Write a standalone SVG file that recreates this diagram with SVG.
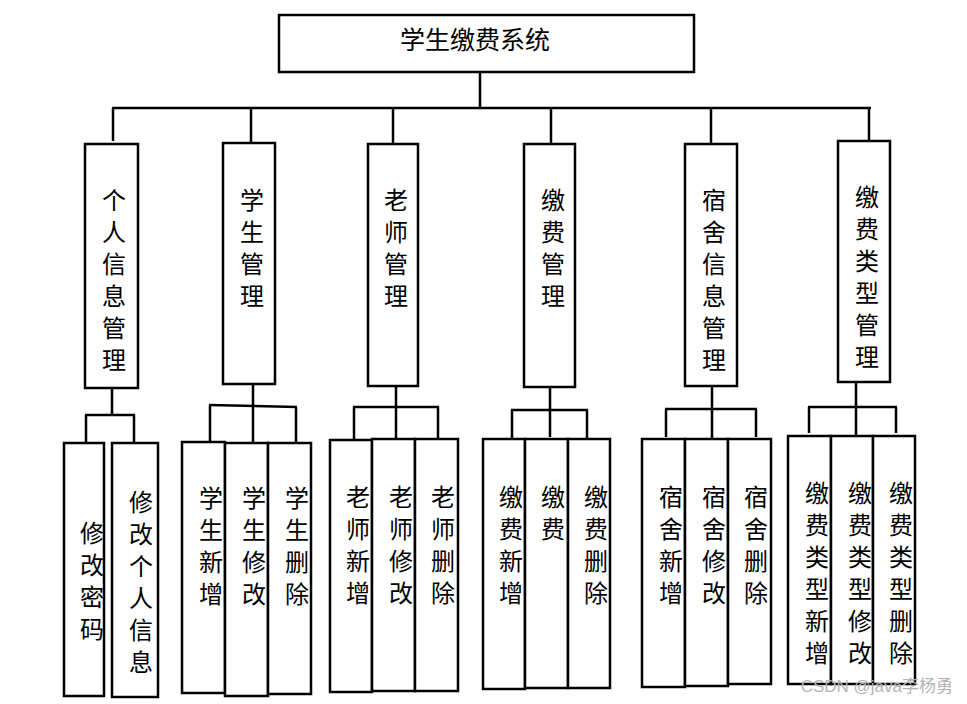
<svg xmlns="http://www.w3.org/2000/svg" width="967" height="704" viewBox="0 0 967 704">
<style>
.box{fill:#fff;stroke:#000;stroke-width:2.5}
.t{font-family:"Noto Sans CJK SC","Liberation Serif",serif;font-size:24px;fill:#000;text-anchor:middle}
.v{font-family:"Noto Sans CJK SC","Liberation Serif",serif;font-size:24px;fill:#000;writing-mode:vertical-rl;text-anchor:start;letter-spacing:8px}
.c line{stroke:#000;stroke-width:2.5}
.wm{font-family:"Liberation Sans","Noto Sans CJK SC",sans-serif;font-size:17px;fill:#b4b4b4;text-anchor:end}
</style>
<rect width="967" height="704" fill="#fff"/>
<g class="c" id="connectors">
<line x1="480" y1="72" x2="480" y2="108"/>
<line x1="112" y1="108" x2="871" y2="108"/>
<line x1="113" y1="108" x2="113" y2="141"/>
<line x1="251" y1="108" x2="251" y2="143"/>
<line x1="393" y1="108" x2="393" y2="143"/>
<line x1="551" y1="108" x2="551" y2="143"/>
<line x1="711" y1="108" x2="711" y2="143"/>
<line x1="869" y1="108" x2="869" y2="140"/>
<line x1="112" y1="388" x2="112" y2="415"/>
<line x1="85" y1="415" x2="135" y2="415"/>
<line x1="86" y1="415" x2="86" y2="442"/>
<line x1="134" y1="415" x2="134" y2="443"/>
<line x1="253" y1="384" x2="253" y2="442"/>
<line x1="209" y1="405" x2="297" y2="407"/>
<line x1="210" y1="405" x2="210" y2="442"/>
<line x1="296" y1="407" x2="296" y2="443"/>
<line x1="396" y1="386" x2="396" y2="439"/>
<line x1="353" y1="407" x2="439" y2="407"/>
<line x1="354" y1="407" x2="354" y2="439"/>
<line x1="438" y1="407" x2="438" y2="439"/>
<line x1="550" y1="387" x2="550" y2="437"/>
<line x1="511" y1="410" x2="588" y2="410"/>
<line x1="512" y1="410" x2="512" y2="438"/>
<line x1="587" y1="410" x2="587" y2="438"/>
<line x1="712" y1="386" x2="712" y2="438"/>
<line x1="665" y1="409" x2="757" y2="409"/>
<line x1="666" y1="409" x2="666" y2="437"/>
<line x1="756" y1="409" x2="756" y2="437"/>
<line x1="856" y1="381" x2="856" y2="435"/>
<line x1="808" y1="407" x2="897" y2="407"/>
<line x1="809" y1="407" x2="809" y2="433"/>
<line x1="896" y1="407" x2="896" y2="433"/>
</g>
<g id="root"><rect class="box" x="279" y="15" width="415" height="57"/><text class="t" x="475" y="49" style="font-size:25px">学生缴费系统</text></g>
<g id="n1"><rect class="box" x="85" y="144" width="53" height="244"/><text class="v" x="114" y="188">个人信息管理</text></g>
<g id="n2"><rect class="box" x="223" y="143" width="52" height="241"/><text class="v" x="252" y="188">学生管理</text></g>
<g id="n3"><rect class="box" x="368" y="144" width="50" height="242"/><text class="v" x="396" y="188">老师管理</text></g>
<g id="n4"><rect class="box" x="524" y="144" width="51" height="243"/><text class="v" x="553" y="188">缴费管理</text></g>
<g id="n5"><rect class="box" x="685" y="144" width="52" height="242"/><text class="v" x="714" y="188">宿舍信息管理</text></g>
<g id="n6"><rect class="box" x="838" y="141" width="52" height="241"/><text class="v" x="867" y="185">缴费类型管理</text></g>
<g id="n1a"><rect class="box" x="64" y="443" width="40" height="253"/><text class="v" x="92" y="521">修改密码</text></g>
<g id="n1b"><rect class="box" x="112" y="443" width="46" height="254"/><text class="v" x="141" y="490">修改个人信息</text></g>
<g id="n2a"><rect class="box" x="182" y="442" width="43" height="251"/><text class="v" x="211" y="486">学生新增</text></g>
<g id="n2b"><rect class="box" x="225" y="443" width="43" height="253"/><text class="v" x="254" y="486">学生修改</text></g>
<g id="n2c"><rect class="box" x="268" y="443" width="43" height="251"/><text class="v" x="297" y="486">学生删除</text></g>
<g id="n3a"><rect class="box" x="330" y="440" width="42" height="252"/><text class="v" x="358" y="485">老师新增</text></g>
<g id="n3b"><rect class="box" x="372" y="439" width="43" height="252"/><text class="v" x="401" y="485">老师修改</text></g>
<g id="n3c"><rect class="box" x="415" y="439" width="43" height="252"/><text class="v" x="443" y="485">老师删除</text></g>
<g id="n4a"><rect class="box" x="483" y="439" width="42" height="250"/><text class="v" x="511" y="485">缴费新增</text></g>
<g id="n4b"><rect class="box" x="525" y="439" width="43" height="249"/><text class="v" x="553" y="485">缴费</text></g>
<g id="n4c"><rect class="box" x="568" y="439" width="42" height="249"/><text class="v" x="596" y="485">缴费删除</text></g>
<g id="n5a"><rect class="box" x="642" y="439" width="43" height="248"/><text class="v" x="671" y="485">宿舍新增</text></g>
<g id="n5b"><rect class="box" x="685" y="439" width="43" height="247"/><text class="v" x="714" y="485">宿舍修改</text></g>
<g id="n5c"><rect class="box" x="728" y="439" width="43" height="245"/><text class="v" x="756" y="485">宿舍删除</text></g>
<g id="n6a"><rect class="box" x="788" y="436" width="43" height="248"/><text class="v" x="817" y="481">缴费类型新增</text></g>
<g id="n6b"><rect class="box" x="831" y="436" width="42" height="248"/><text class="v" x="860" y="481">缴费类型修改</text></g>
<g id="n6c"><rect class="box" x="873" y="436" width="42" height="248"/><text class="v" x="901" y="481">缴费类型删除</text></g>
<text class="wm" x="953" y="692">CSDN @java李杨勇</text>
</svg>
